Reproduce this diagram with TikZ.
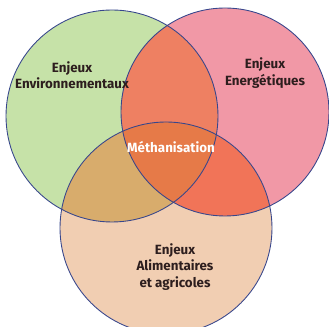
\documentclass[tikz,border=0pt]{standalone}
\usepackage{fontspec}
\setmainfont{Fira Sans}
\definecolor{envgreen}{RGB}{198,226,168}
\definecolor{enepink}{RGB}{241,152,166}
\definecolor{alipeach}{RGB}{241,206,178}
\definecolor{gpmix}{RGB}{238,128,98}
\definecolor{gamix}{RGB}{216,172,108}
\definecolor{pamix}{RGB}{241,116,88}
\definecolor{allmix}{RGB}{230,122,72}
\definecolor{rimblue}{RGB}{55,70,140}
\definecolor{labeltext}{RGB}{45,30,30}
\tikzset{
  label/.style={font=\fontsize{7.6}{9.2}\selectfont\bfseries, text=labeltext, align=center},
  rim/.style={draw=rimblue, line width=0.5pt}
}

\begin{document}
\begin{tikzpicture}[x=0.02cm,y=-0.02cm]
\useasboundingbox (0,0) rectangle (329,327);

\coordinate (env) at (112,116);
\coordinate (ene) at (225,112);
\coordinate (ali) at (166,228);

% single circles
\fill[envgreen] (env) circle (106);
\fill[enepink] (ene) circle (104);
\fill[alipeach] (ali) circle (106);

% overlaps
\begin{scope}
\clip (env) circle (106);
\fill[gpmix] (ene) circle (104);
\fill[gamix] (ali) circle (106);
\clip (ene) circle (104);
\fill[allmix] (ali) circle (106);
\end{scope}
\begin{scope}
\clip (ene) circle (104);
\clip (ali) circle (106);
\fill[pamix] (ali) circle (106);
\clip (env) circle (106);
\fill[allmix] (ali) circle (106);
\end{scope}

\draw[rim] (env) circle (106);
\draw[rim] (ene) circle (104);
\draw[rim] (ali) circle (106);

\node[label] (envtxt) at (72,75) {Enjeux\\Environnementaux};
\node[label] (enetxt) at (265,73) {Enjeux\\Energétiques};
\node[label, text=white] (meth) at (171,147) {Méthanisation};
\node[label] (alitxt) at (175,267) {Enjeux\\Alimentaires\\et agricoles};
\end{tikzpicture}
\end{document}
